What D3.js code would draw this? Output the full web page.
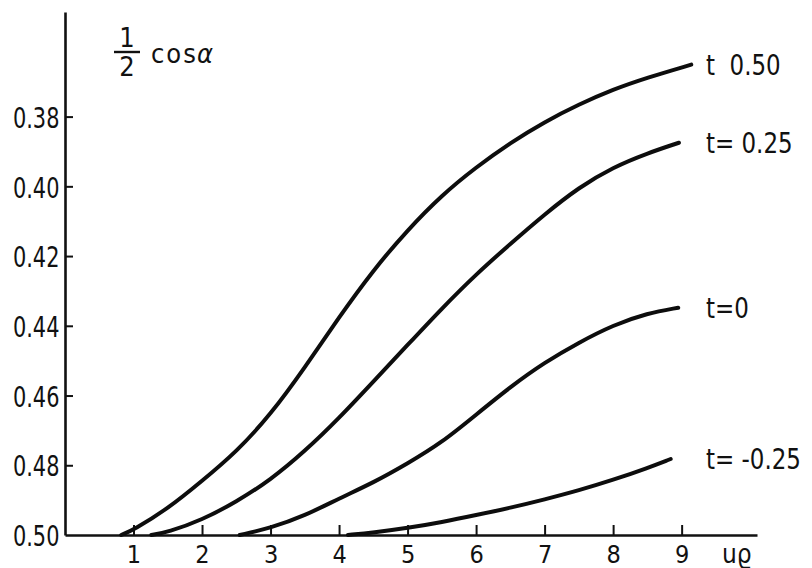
<!DOCTYPE html>
<html>
<head>
<meta charset="utf-8">
<script src="https://cdn.jsdelivr.net/npm/d3@7"></script>
<style>
  html, body { margin: 0; padding: 0; background: #fff; }
  svg { display: block; }
  text { fill: #111; font-family: "DejaVu Sans Condensed", "DejaVu Sans", sans-serif; }
</style>
</head>
<body>
<div id="chart"></div>
<script>
// curve values: u*rho on x, 1/2 cos(alpha) on y
const tLabels = ["t  0.50", "t= 0.25", "t=0", "t= -0.25"];

const uHalf = [0.82, 1.0, 1.5, 2.0, 2.5, 3.0, 3.5, 4.0, 4.5, 5.0, 5.5, 6.0, 6.5, 7.0, 7.5, 8.0, 8.5, 9.14];
const cHalf = [0.500, 0.4985, 0.4925, 0.4845, 0.4762, 0.4655, 0.4520, 0.4375, 0.4240, 0.4125, 0.4025, 0.3945, 0.3875, 0.3815, 0.3765, 0.3722, 0.3688, 0.3651];

const uQuarter = [1.26, 1.5, 2.0, 2.5, 3.0, 3.5, 4.0, 4.5, 5.0, 5.5, 6.0, 6.5, 7.0, 7.5, 8.0, 8.5, 8.96];
const cQuarter = [0.500, 0.4992, 0.4957, 0.4905, 0.4842, 0.4760, 0.4665, 0.4560, 0.4455, 0.4350, 0.4252, 0.4165, 0.4080, 0.4003, 0.3945, 0.3905, 0.3875];

const uZero = [2.55, 3.0, 3.5, 4.0, 4.5, 5.0, 5.5, 6.0, 6.5, 7.0, 7.5, 8.0, 8.5, 8.95];
const cZero = [0.500, 0.4980, 0.4945, 0.4895, 0.4850, 0.4795, 0.4735, 0.4655, 0.4575, 0.4505, 0.4448, 0.4398, 0.4364, 0.4348];

const uNeg = [4.13, 4.5, 5.0, 5.5, 6.0, 6.5, 7.0, 7.5, 8.0, 8.5, 8.84];
const cNeg = [0.500, 0.4993, 0.4980, 0.4963, 0.4943, 0.4922, 0.4898, 0.4872, 0.4842, 0.4808, 0.4782];

const xTicks = [1, 2, 3, 4, 5, 6, 7, 8, 9];
const yTicks = [0.38, 0.40, 0.42, 0.44, 0.46, 0.48, 0.50];

const series = [
  { label: tLabels[0], u: uHalf, c: cHalf },
  { label: tLabels[1], u: uQuarter, c: cQuarter },
  { label: tLabels[2], u: uZero, c: cZero },
  { label: tLabels[3], u: uNeg, c: cNeg },
];

const width = 812, height = 568;
const svg = d3.select("#chart").append("svg")
  .attr("width", width)
  .attr("height", height);

const x = d3.scaleLinear().domain([0, 10.1]).range([65, 757]);
const y = d3.scaleLinear().domain([0.50, 0.35]).range([535, 12]);

// y axis, ticks pointing into the plot
const yAxis = svg.append("g")
  .attr("transform", `translate(${x(0)},0)`)
  .call(d3.axisLeft(y).tickValues(yTicks).tickFormat(d3.format(".2f"))
    .tickSizeInner(-8).tickSizeOuter(0).tickPadding(7));
yAxis.attr("font-family", null);
yAxis.selectAll("text")
  .attr("font-size", 29)
  .attr("dy", "0.37em")
  .attr("transform", "scale(0.8,1)");

// x axis, ticks pointing up
const xAxis = svg.append("g")
  .attr("transform", `translate(0,${y(0.50)})`)
  .call(d3.axisBottom(x).tickValues(xTicks).tickFormat(d3.format("d"))
    .tickSizeInner(-10).tickSizeOuter(0).tickPadding(10));
xAxis.attr("font-family", null);
xAxis.selectAll("text").attr("font-size", 25);

svg.selectAll(".domain").attr("stroke", "#111").attr("stroke-width", 2.6);
svg.selectAll(".tick line").attr("stroke", "#111").attr("stroke-width", 2);
svg.selectAll(".tick text").attr("fill", "#111");
yAxis.select(".tick:last-of-type line").remove();

// curves
const line = d3.line()
  .x(d => x(d[0]))
  .y(d => y(d[1]))
  .curve(d3.curveBasis);

svg.append("g").selectAll("path")
  .data(series)
  .join("path")
  .attr("d", d => line(d.u.map((v, i) => [v, d.c[i]])))
  .attr("fill", "none")
  .attr("stroke", "#0d0d0d")
  .attr("stroke-width", 4)
  .attr("stroke-linecap", "round");

// curve labels at the right end
svg.append("g").selectAll("text")
  .data(series)
  .join("text")
  .attr("transform", d => `translate(706,${y(d.c[d.c.length - 1]) + 10}) scale(0.88,1)`)
  .attr("font-size", 29)
  .style("white-space", "pre")
  .text(d => d.label);

// axis title "1/2 cos alpha"
const title = svg.append("g");
title.append("text").attr("x", 127).attr("y", 47).attr("font-size", 27)
  .attr("text-anchor", "middle").text("1");
title.append("line").attr("x1", 114).attr("x2", 140).attr("y1", 52).attr("y2", 52)
  .attr("stroke", "#111").attr("stroke-width", 2.4);
title.append("text").attr("x", 127).attr("y", 76).attr("font-size", 27)
  .attr("text-anchor", "middle").text("2");
title.append("text").attr("x", 151).attr("y", 63).attr("font-size", 27)
  .attr("letter-spacing", 2).text("cos");
title.append("text").attr("x", 197).attr("y", 63).attr("font-size", 27)
  .attr("font-style", "italic").text("α");

// x axis name
svg.append("text").attr("x", 722).attr("y", 563).attr("font-size", 26).text("uϱ");
</script>
</body>
</html>
